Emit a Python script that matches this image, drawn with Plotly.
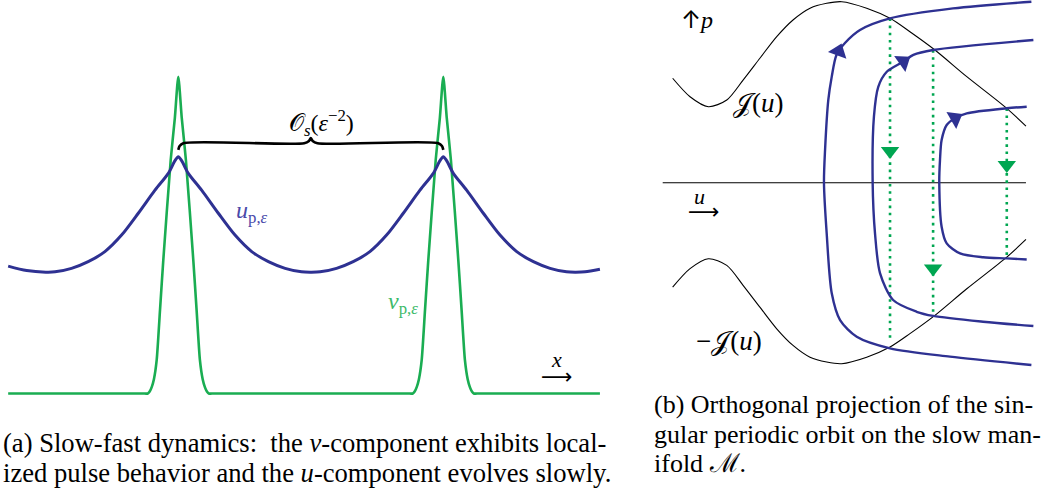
import plotly.graph_objects as go

# ---------------- panel (a): slow-fast profile ----------------
u_x = [-6.42, -5.72, -5.0, -4.65, -4.03, -3.40, -2.77, -2.14, -1.51, -0.88, -0.377, -0.125, 0.0,
       0.125, 0.377, 0.88, 1.51, 2.14, 2.77, 3.40, 4.03, 4.65, 5.0, 5.35, 5.97, 6.60, 7.23, 7.86,
       8.49, 9.12, 9.623, 9.875, 10.0, 10.125, 10.377, 10.88, 11.51, 12.14, 12.77, 13.40, 14.03,
       14.65, 15.0, 15.35, 15.91]
u_y = [0.402, 0.388, 0.383, 0.384, 0.395, 0.416, 0.448, 0.500, 0.569, 0.642, 0.695, 0.735, 0.7475,
       0.735, 0.695, 0.642, 0.569, 0.500, 0.448, 0.416, 0.395, 0.384, 0.383, 0.384, 0.395, 0.416,
       0.448, 0.500, 0.569, 0.642, 0.695, 0.735, 0.7475, 0.735, 0.695, 0.642, 0.569, 0.500, 0.448,
       0.416, 0.395, 0.384, 0.383, 0.384, 0.392]

v_x = [-6.42, -3.0, -1.35, -1.15, -1.08, -1.0, -0.92, -0.815, -0.69, -0.566, -0.287, -0.13, 0.0,
       0.13, 0.287, 0.566, 0.69, 0.815, 0.92, 1.0, 1.08, 1.15, 1.35, 5.0,
       8.65, 8.85, 8.92, 9.0, 9.08, 9.185, 9.31, 9.434, 9.713, 9.87, 10.0,
       10.13, 10.287, 10.566, 10.69, 10.815, 10.92, 11.0, 11.08, 11.15, 11.35, 13.0, 15.91]
v_y = [0.0, 0.0, 0.0, 0.0, 0.006, 0.021, 0.045, 0.106, 0.264, 0.421, 0.737, 0.87, 1.0,
       0.87, 0.737, 0.421, 0.264, 0.106, 0.045, 0.021, 0.006, 0.0, 0.0, 0.0,
       0.0, 0.0, 0.006, 0.021, 0.045, 0.106, 0.264, 0.421, 0.737, 0.87, 1.0,
       0.87, 0.737, 0.421, 0.264, 0.106, 0.045, 0.021, 0.006, 0.0, 0.0, 0.0, 0.0]

brace_x = [0.0, 0.05, 0.19, 4.75, 4.93, 5.0, 5.07, 5.25, 9.81, 9.95, 10.0]
brace_y = [0.769, 0.781, 0.790, 0.790, 0.797, 0.806, 0.797, 0.790, 0.790, 0.781, 0.769]

# ---------------- panel (b): slow manifold projection ----------------
J_u = [0.055, 0.151, 0.252, 0.354, 0.444, 0.538, 0.630, 0.720, 0.814, 0.906, 0.989, 1.127,
       1.256, 1.366, 1.504, 1.680, 1.901, 2.007]
J_p = [0.577, 0.475, 0.420, 0.457, 0.567, 0.689, 0.807, 0.899, 0.964, 0.991, 1.000, 0.964,
       0.908, 0.834, 0.733, 0.586, 0.411, 0.313]

orb1_u = [2.037, 1.604, 1.256, 1.090, 1.007, 0.960, 0.934, 0.915, 0.897, 0.891, 0.906, 0.934,
          0.980, 1.072, 1.256, 1.587, 2.037]
orb1_p = [1.000, 0.963, 0.908, 0.844, 0.772, 0.706, 0.586, 0.457, 0.181, 0.0, -0.280, -0.611,
          -0.759, -0.851, -0.915, -0.961, -1.007]
orb2_u = [2.048, 1.494, 1.385, 1.329, 1.238, 1.191, 1.167, 1.160, 1.173, 1.201, 1.273, 1.403,
          1.495, 1.770, 2.048]
orb2_p = [0.788, 0.733, 0.706, 0.669, 0.613, 0.530, 0.365, 0.0, -0.280, -0.501, -0.648, -0.713,
          -0.736, -0.768, -0.792]
orb3_u = [2.011, 1.901, 1.680, 1.615, 1.569, 1.541, 1.532, 1.528, 1.541, 1.569, 1.643, 1.771,
          1.901, 2.011]
orb3_p = [0.420, 0.411, 0.383, 0.356, 0.319, 0.236, 0.125, 0.0, -0.243, -0.335, -0.391, -0.412,
          -0.418, -0.424]

drop_u = [1.256, 1.494, 1.901]
drop_top = [0.908, 0.733, 0.411]
drop_bot = [-0.88, -0.736, -0.409]
drop_arrow_p = [0.175, -0.474, 0.098]

flow_arrow_u = [0.972, 1.329, 1.615]
flow_arrow_p = [0.725, 0.669, 0.356]
flow_arrow_angle = [20, 55, 60]

axis_u = [0.0, 2.007]
axis_p = [0.0, 0.0]

BLUE = "#2e3192"
GREEN = "#00a651"
VGREEN = "#1aad52"

fig = go.Figure()

# panel (a)
fig.add_trace(go.Scatter(x=v_x, y=v_y, mode="lines", line=dict(color=VGREEN, width=2.6, shape="spline", smoothing=0.6),
                         xaxis="x", yaxis="y", hoverinfo="skip"))
fig.add_trace(go.Scatter(x=u_x, y=u_y, mode="lines", line=dict(color=BLUE, width=3, shape="spline", smoothing=0.8),
                         xaxis="x", yaxis="y", hoverinfo="skip"))
fig.add_trace(go.Scatter(x=brace_x, y=brace_y, mode="lines", line=dict(color="black", width=2.6, shape="spline", smoothing=0.8),
                         xaxis="x", yaxis="y", hoverinfo="skip"))

# panel (b)
fig.add_trace(go.Scatter(x=axis_u, y=axis_p, mode="lines", line=dict(color="black", width=1.1),
                         xaxis="x2", yaxis="y2", hoverinfo="skip"))
fig.add_trace(go.Scatter(x=J_u, y=J_p, mode="lines", line=dict(color="black", width=1.1, shape="spline", smoothing=0.8),
                         xaxis="x2", yaxis="y2", hoverinfo="skip"))
fig.add_trace(go.Scatter(x=J_u, y=[-p for p in J_p], mode="lines",
                         line=dict(color="black", width=1.1, shape="spline", smoothing=0.8),
                         xaxis="x2", yaxis="y2", hoverinfo="skip"))
for i in range(len(drop_u)):
    fig.add_trace(go.Scatter(x=[drop_u[i], drop_u[i]], y=[drop_top[i], drop_bot[i]], mode="lines",
                             line=dict(color=GREEN, width=2.6, dash="2.6px,4.6px"),
                             xaxis="x2", yaxis="y2", hoverinfo="skip"))
for ou, op in ((orb1_u, orb1_p), (orb2_u, orb2_p), (orb3_u, orb3_p)):
    fig.add_trace(go.Scatter(x=ou, y=op, mode="lines", line=dict(color=BLUE, width=2.4, shape="spline", smoothing=0.8),
                             xaxis="x2", yaxis="y2", hoverinfo="skip"))
fig.add_trace(go.Scatter(x=drop_u, y=drop_arrow_p, mode="markers",
                         marker=dict(symbol="triangle-down", size=16, color=GREEN, line=dict(width=0)),
                         xaxis="x2", yaxis="y2", hoverinfo="skip"))
fig.add_trace(go.Scatter(x=flow_arrow_u, y=flow_arrow_p, mode="markers",
                         marker=dict(symbol="triangle-up", size=17, color=BLUE, angle=flow_arrow_angle, line=dict(width=0)),
                         xaxis="x2", yaxis="y2", hoverinfo="skip"))

SERIF = "Liberation Serif"
ann = []
def A(x, y, text, size, color="black", xref="x", yref="y", xanchor="center", family=SERIF):
    ann.append(dict(x=x, y=y, xref=xref, yref=yref, text=text, showarrow=False, xanchor=xanchor,
                    yanchor="middle", font=dict(family=family, size=size, color=color)))

ARROW_SPAN = '<span style="font-family:Inter">{}</span>'

A(5.42, 0.855, "𝒪<sub><i>s</i></sub>(<i>ε</i><sup>−2</sup>)", 24)
A(2.78, 0.573, "<i>u</i><sub>p,<i>ε</i></sub>", 24, "#4a4aaa")
A(8.48, 0.286, "<i>v</i><sub>p,<i>ε</i></sub>", 24, "#3dba6a")
A(14.29, 0.108, "<i>x</i>", 22)
A(14.29, 0.055, "⟶", 22, family="DejaVu Sans")

A(0.19, 0.899, ARROW_SPAN.format("↑") + "<i>p</i>", 24, xref="x2", yref="y2")
A(0.532, 0.443, "𝒥(<i>u</i>)", 27, xref="x2", yref="y2")
A(0.366, -0.875, "−𝒥(<i>u</i>)", 27, xref="x2", yref="y2")
A(0.206, -0.075, "<i>u</i>", 22, xref="x2", yref="y2")
A(0.228, -0.160, "⟶", 22, xref="x2", yref="y2", family="DejaVu Sans")

CAP_A = 26.6
CAP_B = 26.0
A(0.001, 1 - 443 / 495, "(a) Slow-fast dynamics:  the <i>v</i>-component exhibits local-", CAP_A, xref="paper", yref="paper", xanchor="left")
A(0.001, 1 - 473 / 495, "ized pulse behavior and the <i>u</i>-component evolves slowly.", CAP_A, xref="paper", yref="paper", xanchor="left")
A(652 / 1042, 1 - 404 / 495, "(b) Orthogonal projection of the sin-", CAP_B, xref="paper", yref="paper", xanchor="left")
A(652 / 1042, 1 - 434 / 495, "gular periodic orbit on the slow man-", CAP_B, xref="paper", yref="paper", xanchor="left")
A(652 / 1042, 1 - 463 / 495, "ifold ℳ.", CAP_B, xref="paper", yref="paper", xanchor="left")

fig.update_layout(
    width=1042, height=495, margin=dict(l=0, r=0, t=0, b=0),
    paper_bgcolor="white", plot_bgcolor="white", showlegend=False,
    xaxis=dict(domain=[0, 0.6], range=[-6.7283, 16.864], visible=False, fixedrange=True),
    yaxis=dict(domain=[0, 1], range=[-0.3204, 1.2421], visible=False, fixedrange=True),
    xaxis2=dict(domain=[0.6, 1], range=[-0.2072, 2.0956], visible=False, anchor="y2", fixedrange=True),
    yaxis2=dict(domain=[0, 1], range=[-1.7254, 1.0094], visible=False, anchor="x2", fixedrange=True),
    annotations=ann,
)

fig.write_html("out.html", config={"displayModeBar": False},
               post_script="document.body.style.margin='0px';document.body.style.overflow='hidden';")
